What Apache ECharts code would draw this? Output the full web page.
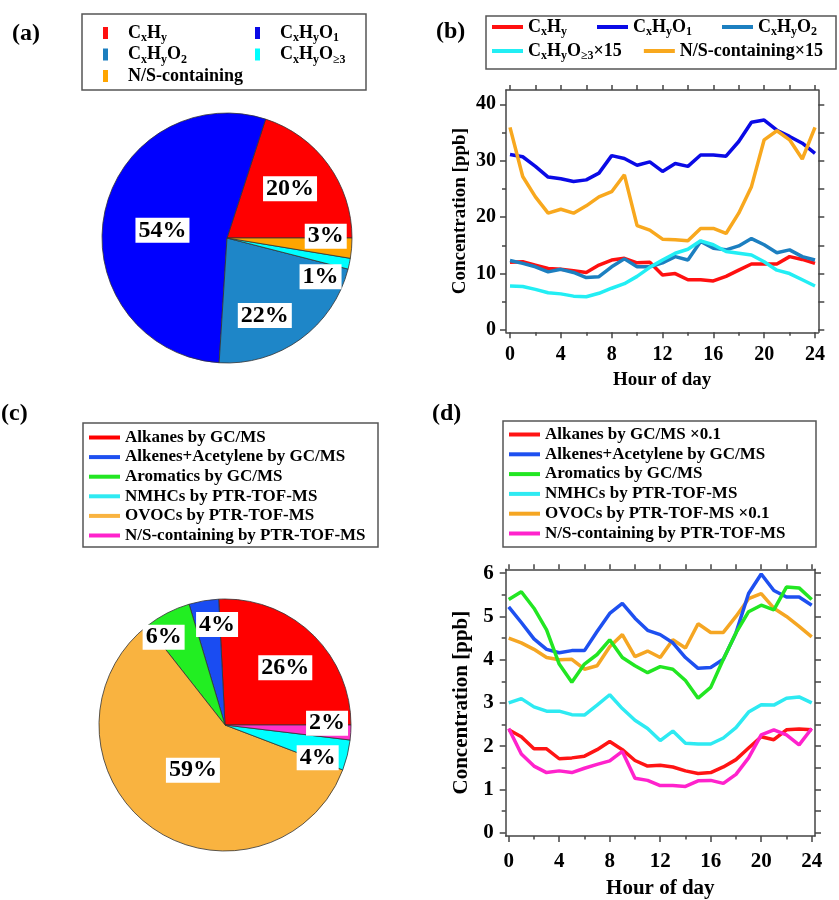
<!DOCTYPE html>
<html><head><meta charset="utf-8">
<script src="https://cdn.jsdelivr.net/npm/echarts@6/dist/echarts.min.js"></script>
<style>html,body{margin:0;padding:0;background:#fff}#c{width:839px;height:900px}</style>
</head><body><div id="c"></div>
<script>
const FONT = "'Liberation Serif','Times New Roman',serif";

// ---------- Panel (a): pie ----------
const pieANames = ['CxHy', 'CxHyO1', 'CxHyO2', 'CxHyO≥3', 'N/S-containing'];
const pieAValues = [20, 54, 22, 1.4, 2.6];
const pieAColors = ['#FF0000', '#0000FF', '#1E86C8', '#00FFFF', '#FFA500'];
const legendACol1 = ['CxHy', 'CxHyO2', 'N/S-containing'];
const legendACol2 = ['CxHyO1', 'CxHyO≥3'];

// ---------- Panel (b): diurnal lines ----------
const hours = [0,1,2,3,4,5,6,7,8,9,10,11,12,13,14,15,16,17,18,19,20,21,22,23,24];
const bNames = ['CxHy', 'CxHyO1', 'CxHyO2', 'CxHyO≥3×15', 'N/S-containing×15'];
const bCxHy   = [12.0,12.1,11.5,10.9,10.75,10.5,10.2,11.5,12.4,12.7,11.9,12.0,9.75,10.0,8.9,8.9,8.7,9.5,10.6,11.7,11.7,11.7,13.0,12.5,11.8];
const bCxHyO1 = [31.1,30.7,29.0,27.1,26.8,26.3,26.6,27.8,30.9,30.4,29.2,29.8,28.1,29.5,29.0,31.0,31.0,30.8,33.4,36.8,37.2,35.4,34.3,33.1,31.3];
const bCxHyO2 = [12.3,11.8,11.2,10.3,10.75,10.2,9.3,9.45,11.2,12.6,11.2,11.2,11.9,13.0,12.4,15.7,14.5,14.2,14.9,16.2,15.1,13.7,14.2,13.0,12.4];
const bCxHyO3 = [7.8,7.7,7.2,6.6,6.4,6.0,5.9,6.5,7.4,8.2,9.5,11.1,12.4,13.6,14.3,15.8,15.1,13.9,13.6,13.3,12.1,10.6,10.0,8.9,7.8];
const bNS     = [35.9,27.2,23.6,20.7,21.4,20.7,22.0,23.6,24.5,27.5,18.5,17.7,16.1,16.0,15.8,18.0,18.0,17.1,20.7,25.4,33.7,35.3,33.7,30.3,35.9];
const bColors = ['#FF1010', '#0A0AE6', '#1C7FC0', '#22EEF4', '#F8A81E'];
const bXLabels = [0,4,8,12,16,20,24];
const bXMinor = [2,6,10,14,18,22];
const bYLabels = [0,10,20,30,40];
const bYMinor = [5,15,25,35];

// ---------- Panel (c): pie ----------
const pieCNames = ['Alkanes by GC/MS', 'Alkenes+Acetylene by GC/MS', 'Aromatics by GC/MS', 'OVOCs by PTR-TOF-MS', 'NMHCs by PTR-TOF-MS', 'N/S-containing by PTR-TOF-MS'];
const pieCValues = [25.8, 3.8, 6.0, 58.6, 3.9, 1.9];
const pieCColors = ['#FF0000', '#1A4CF2', '#22EE22', '#F9B340', '#00FFFF', '#FF33CC'];
const legendCOrder = ['Alkanes by GC/MS', 'Alkenes+Acetylene by GC/MS', 'Aromatics by GC/MS', 'NMHCs by PTR-TOF-MS', 'OVOCs by PTR-TOF-MS', 'N/S-containing by PTR-TOF-MS'];

// ---------- Panel (d): diurnal lines ----------
const dNames = ['Alkanes by GC/MS ×0.1', 'Alkenes+Acetylene by GC/MS', 'Aromatics by GC/MS', 'NMHCs by PTR-TOF-MS', 'OVOCs by PTR-TOF-MS ×0.1', 'N/S-containing by PTR-TOF-MS'];
const dAlkanes  = [2.38,2.22,1.94,1.94,1.71,1.73,1.77,1.92,2.11,1.92,1.67,1.54,1.56,1.52,1.43,1.37,1.39,1.52,1.69,1.96,2.22,2.15,2.38,2.40,2.38];
const dAlkenes  = [5.22,4.86,4.48,4.24,4.16,4.21,4.21,4.65,5.07,5.30,4.96,4.68,4.58,4.39,4.05,3.80,3.82,4.01,4.62,5.53,5.98,5.60,5.45,5.45,5.26];
const dAromatics= [5.39,5.57,5.19,4.69,3.90,3.48,3.90,4.12,4.46,4.05,3.86,3.70,3.84,3.78,3.52,3.11,3.36,4.01,4.62,5.11,5.26,5.15,5.68,5.66,5.39];
const dNMHCs    = [3.00,3.10,2.91,2.81,2.81,2.73,2.72,2.95,3.19,2.87,2.60,2.41,2.13,2.35,2.07,2.05,2.05,2.19,2.43,2.79,2.96,2.95,3.11,3.14,3.00];
const dOVOCs    = [4.50,4.39,4.24,4.05,4.00,4.01,3.78,3.86,4.30,4.58,4.07,4.20,4.05,4.46,4.27,4.83,4.63,4.63,5.00,5.41,5.53,5.19,5.00,4.77,4.53];
const dNS       = [2.41,1.82,1.54,1.39,1.43,1.39,1.49,1.58,1.66,1.88,1.26,1.21,1.09,1.09,1.07,1.20,1.21,1.14,1.35,1.73,2.26,2.38,2.26,2.03,2.41];
const dColors = ['#FF1414', '#1E50F0', '#22E622', '#2EEAF2', '#F5A623', '#FF22CC'];
const dDrawOrder = [0, 3, 4, 1, 2, 5];
const dXLabels = [0,4,8,12,16,20,24];
const dXMinor = [2,6,10,14,18,22];
const dYLabels = [0,1,2,3,4,5,6];
const dYMinor = [0.5,1.5,2.5,3.5,4.5,5.5];

// ---------- label helpers ----------
const richMap = {
  'CxHy': '{n|C}{s|x}{n|H}{s|y}',
  'CxHyO1': '{n|C}{s|x}{n|H}{s|y}{n|O}{s|1}',
  'CxHyO2': '{n|C}{s|x}{n|H}{s|y}{n|O}{s|2}',
  'CxHyO≥3': '{n|C}{s|x}{n|H}{s|y}{n|O}{s|≥3}',
  'CxHyO≥3×15': '{n|C}{s|x}{n|H}{s|y}{n|O}{s|≥3}{n|×15}',
  'N/S-containing': '{n|N/S-containing}',
  'N/S-containing×15': '{n|N/S-containing×15}'
};
const richStyles = {
  n: {fontSize: 18, fontWeight: 'bold', fontFamily: FONT, color: '#000', lineHeight: 22},
  s: {fontSize: 12, fontWeight: 'bold', fontFamily: FONT, color: '#000', lineHeight: 12, verticalAlign: 'bottom'},
  sp: {width: 15, lineHeight: 22}
};

// label placement inside pies: [radius fraction, angle offset from slice middle (deg)]
const placeA = [[0.64, 2], [0.52, 4], [0.69, -10], [0.81, -10.6], [0.79, 5.7]];
const placeC = [[0.66, -2.9], [0.80, -5.2], [0.85, 7.6], [0.44, 1], [0.78, -5.6], [0.81, 4.4]];

function pieLabelLayout(values, place, center, R) {
  const total = values.reduce((a, b) => a + b, 0);
  let acc = 0;
  const mids = values.map(v => { const m = acc + v / 2; acc += v; return m / total * 360; });
  return function (p) {
    const i = p.dataIndex;
    const a = (mids[i] + place[i][1]) * Math.PI / 180;
    const r = place[i][0] * R;
    return {x: center[0] + r * Math.cos(a), y: center[1] - r * Math.sin(a), align: 'center', verticalAlign: 'middle'};
  };
}
function pctFormatter(values) {
  const total = values.reduce((a, b) => a + b, 0);
  return p => Math.round(p.value / total * 100) + '%';
}

const pieLabel = {
  show: true, position: 'inside', fontSize: 24, fontWeight: 'bold', fontFamily: FONT, color: '#000',
  backgroundColor: '#fff', padding: [1, 3, 0, 3]
};

const AX = '#444';
function frameAxes(g, xr, yr, xMaj, xMin, yMaj, yMin, fs, yNameGap, xNameGap, nameFs, xMargin, yMargin) {
  const txt = {fontSize: fs, fontWeight: 'bold', fontFamily: FONT, color: '#000'};
  const nameTxt = {fontSize: nameFs, fontWeight: 'bold', fontFamily: FONT, color: '#000'};
  const line = {color: AX, width: 1.5};
  const base = {gridIndex: g, type: 'value', splitLine: {show: false}};
  const xs = [
    Object.assign({}, base, {position: 'bottom', min: xr[0], max: xr[1],
      axisLine: {show: true, onZero: false, lineStyle: line},
      axisTick: {show: true, inside: false, length: 6, customValues: xMaj, lineStyle: line},
      axisLabel: {show: true, customValues: xMaj, margin: xMargin, ...txt},
      name: 'Hour of day', nameLocation: 'middle', nameGap: xNameGap, nameTextStyle: nameTxt}),
    Object.assign({}, base, {position: 'bottom', min: xr[0], max: xr[1],
      axisLine: {show: false, onZero: false},
      axisTick: {show: true, inside: false, length: 3.5, customValues: xMin, lineStyle: line},
      axisLabel: {show: false}}),
    Object.assign({}, base, {position: 'top', min: xr[0], max: xr[1],
      axisLine: {show: true, onZero: false, lineStyle: line},
      axisTick: {show: true, inside: false, length: 5, customValues: xMaj.concat(xMin), lineStyle: line},
      axisLabel: {show: false}})
  ];
  const ys = [
    Object.assign({}, base, {position: 'left', min: yr[0], max: yr[1],
      axisLine: {show: true, onZero: false, lineStyle: line},
      axisTick: {show: true, inside: false, length: 6, customValues: yMaj, lineStyle: line},
      axisLabel: {show: true, customValues: yMaj, margin: yMargin, ...txt},
      name: 'Concentration [ppb]', nameLocation: 'middle', nameGap: yNameGap, nameTextStyle: nameTxt}),
    Object.assign({}, base, {position: 'left', min: yr[0], max: yr[1],
      axisLine: {show: false, onZero: false},
      axisTick: {show: true, inside: false, length: 4, customValues: yMin, lineStyle: line},
      axisLabel: {show: false}}),
    Object.assign({}, base, {position: 'right', min: yr[0], max: yr[1],
      axisLine: {show: true, onZero: false, lineStyle: line},
      axisTick: {show: true, inside: false, length: 6, customValues: yMaj.concat(yMin), lineStyle: line},
      axisLabel: {show: false}})
  ];
  return {xs, ys};
}

const axB = frameAxes(0, [-0.315, 24.26], [-0.41, 42.53], bXLabels, bXMinor, bYLabels, bYMinor, 20, 36, 38, 19, 13, 10);
const axD = frameAxes(1, [-0.238, 24.26], [-0.076, 6.09], dXLabels, dXMinor, dYLabels, dYMinor, 21, 34, 42, 21, 15, 12);

const bData = [bCxHy, bCxHyO1, bCxHyO2, bCxHyO3, bNS];
const dData = [dAlkanes, dAlkenes, dAromatics, dNMHCs, dOVOCs, dNS];

const series = [];
const pieACenter = [227, 238], pieAR = 125;
series.push({
  type: 'pie', name: 'a', center: pieACenter, radius: pieAR, startAngle: 0, clockwise: false,
  avoidLabelOverlap: false, silent: true,
  itemStyle: {borderColor: '#333', borderWidth: 0.8},
  label: Object.assign({formatter: pctFormatter(pieAValues)}, pieLabel),
  labelLine: {show: false},
  labelLayout: pieLabelLayout(pieAValues, placeA, pieACenter, pieAR),
  data: pieANames.map((n, i) => ({name: n, value: pieAValues[i], itemStyle: {color: pieAColors[i]}}))
});
const pieCCenter = [225, 725], pieCR = 126;
series.push({
  type: 'pie', name: 'c', center: pieCCenter, radius: pieCR, startAngle: 0, clockwise: false,
  avoidLabelOverlap: false, silent: true,
  itemStyle: {borderColor: '#333', borderWidth: 0.8},
  label: Object.assign({formatter: pctFormatter(pieCValues)}, pieLabel),
  labelLine: {show: false},
  labelLayout: pieLabelLayout(pieCValues, placeC, pieCCenter, pieCR),
  data: pieCNames.map((n, i) => ({name: n, value: pieCValues[i], itemStyle: {color: pieCColors[i]}}))
});
bNames.forEach((n, i) => {
  series.push({
    type: 'line', name: n, xAxisIndex: 0, yAxisIndex: 0, showSymbol: false, symbol: 'none',
    color: bColors[i], lineStyle: {width: 3.5, color: bColors[i]}, z: 3 + i,
    data: hours.map((h, k) => [h, bData[i][k]])
  });
});
dDrawOrder.forEach((i, order) => {
  series.push({
    type: 'line', name: dNames[i], xAxisIndex: 3, yAxisIndex: 3, showSymbol: false, symbol: 'none',
    color: dColors[i], lineStyle: {width: 3.5, color: dColors[i]}, z: 3 + order,
    data: hours.map((h, k) => [h, dData[i][k]])
  });
});

const legendText17 = {fontSize: 17, fontWeight: 'bold', fontFamily: FONT, color: '#000', lineHeight: 17};
const richFmt = name => richMap[name] || name;
const richFmtA = name => '{sp| }' + (richMap[name] || name);

const option = {
  animation: false,
  backgroundColor: '#fff',
  title: [
    {text: '(a)', left: 12, top: 22, padding: 0, textStyle: {fontSize: 24, fontWeight: 'bold', fontFamily: FONT, color: '#000'}},
    {text: '(b)', left: 436, top: 20, padding: 0, textStyle: {fontSize: 24, fontWeight: 'bold', fontFamily: FONT, color: '#000'}},
    {text: '(c)', left: 1, top: 402, padding: 0, textStyle: {fontSize: 24, fontWeight: 'bold', fontFamily: FONT, color: '#000'}},
    {text: '(d)', left: 432, top: 402, padding: 0, textStyle: {fontSize: 24, fontWeight: 'bold', fontFamily: FONT, color: '#000'}}
  ],
  legend: [
    {data: legendACol1, orient: 'vertical', left: 103, top: 24, padding: 0,
     itemWidth: 5, itemHeight: 12, itemGap: 1.5, icon: 'rect', selectedMode: false,
     itemStyle: {borderWidth: 0}, formatter: richFmtA, textStyle: {rich: richStyles}},
    {data: legendACol2, orient: 'vertical', left: 255, top: 24, padding: 0,
     itemWidth: 5, itemHeight: 12, itemGap: 1.5, icon: 'rect', selectedMode: false,
     itemStyle: {borderWidth: 0}, formatter: richFmtA, textStyle: {rich: richStyles}},
    {data: bNames.slice(0, 3), orient: 'horizontal', left: 492, top: 18, padding: 0,
     itemWidth: 31, itemHeight: 4, itemGap: 30, icon: 'rect', selectedMode: false,
     itemStyle: {borderWidth: 0}, formatter: richFmt, textStyle: {rich: richStyles}},
    {data: bNames.slice(3), orient: 'horizontal', left: 492, top: 42, padding: 0,
     itemWidth: 31, itemHeight: 4, itemGap: 22, icon: 'rect', selectedMode: false,
     itemStyle: {borderWidth: 0}, formatter: richFmt, textStyle: {rich: richStyles}},
    {data: legendCOrder, orient: 'vertical', left: 89, top: 429, padding: 0,
     itemWidth: 31, itemHeight: 4, itemGap: 2.6, icon: 'rect', selectedMode: false,
     itemStyle: {borderWidth: 0}, textStyle: legendText17},
    {data: dNames, orient: 'vertical', left: 509, top: 426, padding: 0,
     itemWidth: 31, itemHeight: 4, itemGap: 2.8, icon: 'rect', selectedMode: false,
     itemStyle: {borderWidth: 0}, textStyle: legendText17}
  ],
  graphic: [
    {type: 'rect', shape: {x: 82, y: 14, width: 284, height: 76}, style: {fill: 'none', stroke: '#555', lineWidth: 1.5}, silent: true},
    {type: 'rect', shape: {x: 486, y: 16, width: 350, height: 53}, style: {fill: 'none', stroke: '#555', lineWidth: 1.5}, silent: true},
    {type: 'rect', shape: {x: 83, y: 423, width: 295, height: 124}, style: {fill: 'none', stroke: '#555', lineWidth: 1.5}, silent: true},
    {type: 'rect', shape: {x: 503, y: 421, width: 313, height: 126}, style: {fill: 'none', stroke: '#555', lineWidth: 1.5}, silent: true}
  ],
  grid: [
    {left: 506, top: 90, width: 312.3, height: 242.3, containLabel: false},
    {left: 505.7, top: 569.3, width: 309.3, height: 269, containLabel: false}
  ],
  xAxis: axB.xs.concat(axD.xs),
  yAxis: axB.ys.concat(axD.ys),
  series: series
};

const chart = echarts.init(document.getElementById('c'), null, {renderer: 'canvas'});
chart.setOption(option);
</script>
</body></html>
